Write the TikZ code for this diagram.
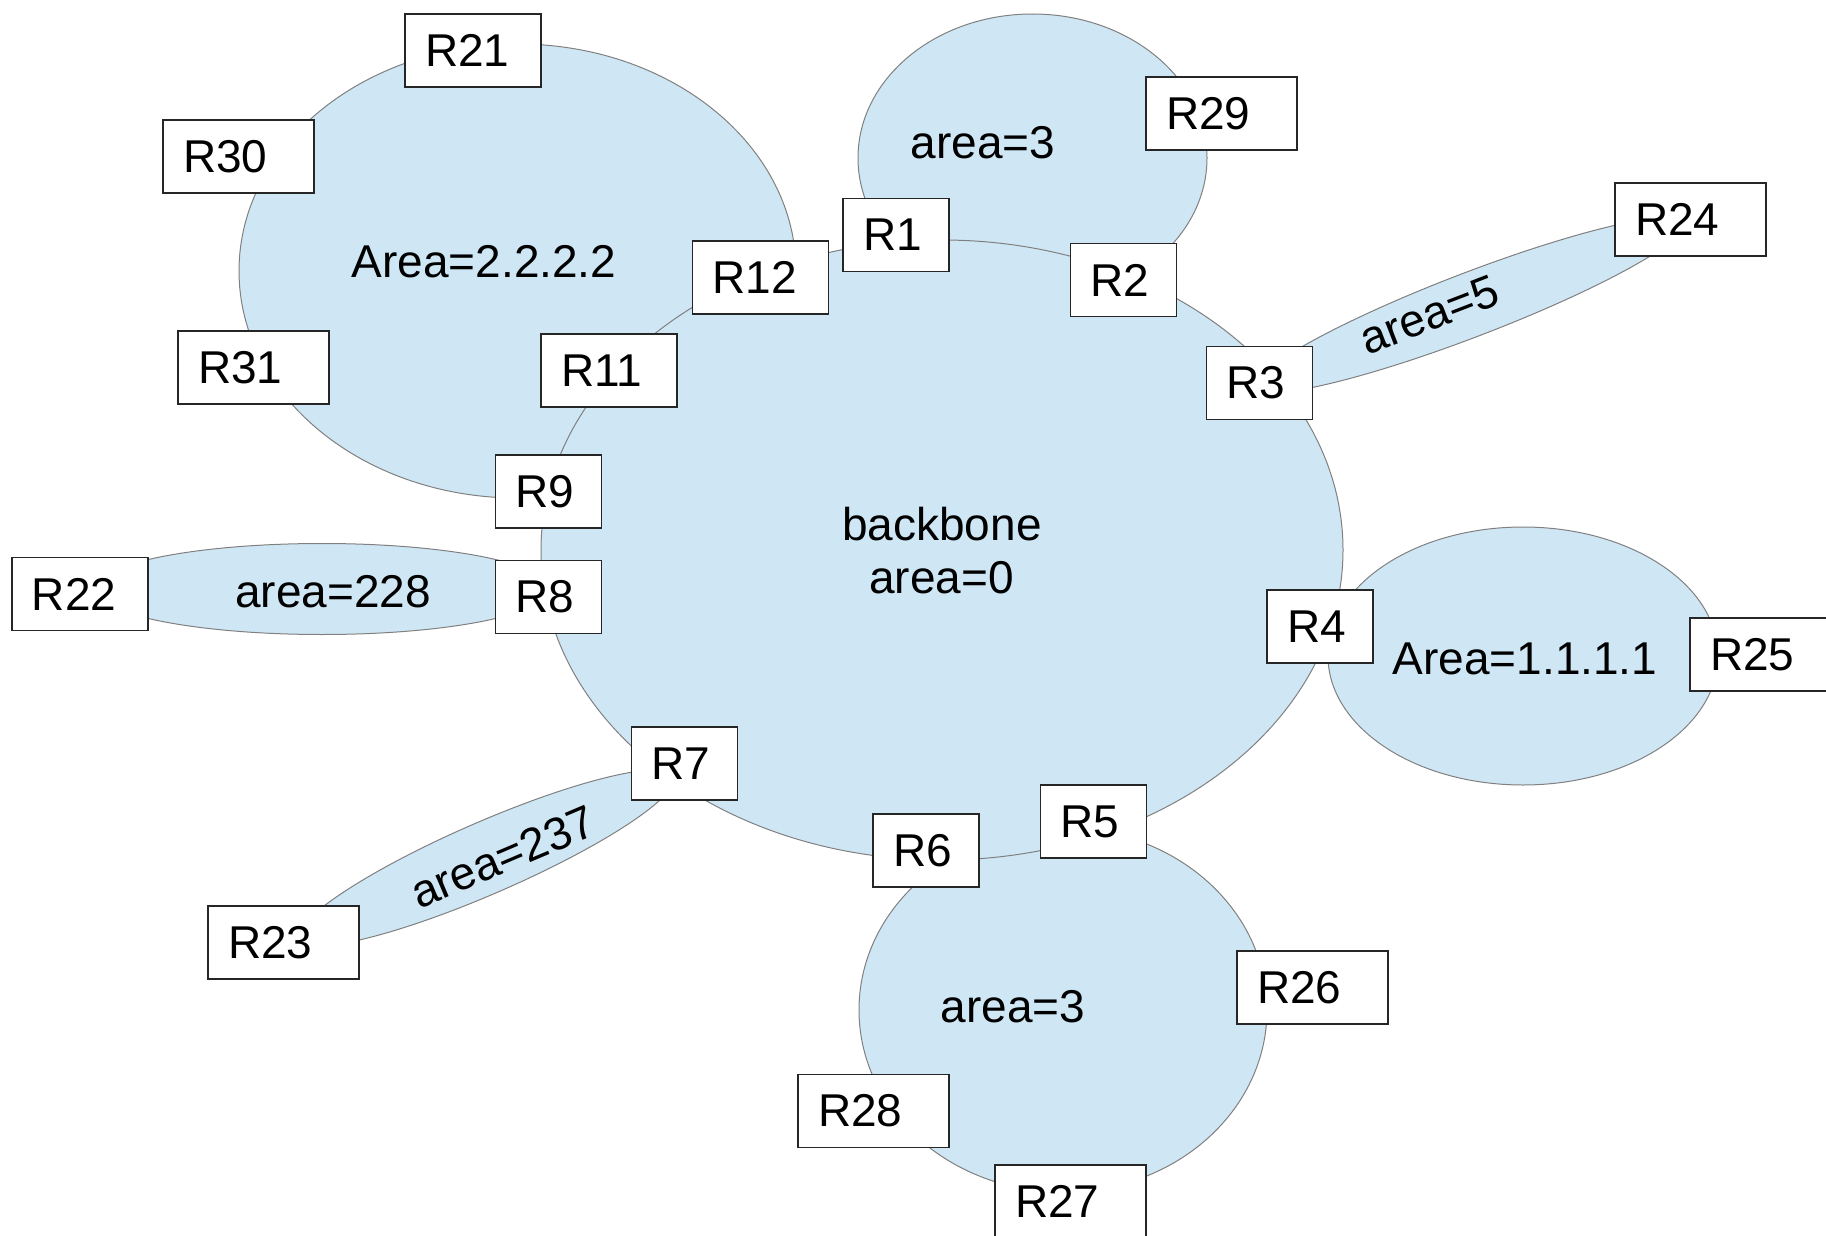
\documentclass[tikz,border=0pt]{standalone}
\usepackage{fontspec}
\setmainfont{Liberation Sans}
\definecolor{areafill}{HTML}{CFE7F5}
\definecolor{arealine}{HTML}{808080}
\begin{document}
\begin{tikzpicture}[x=0.5pt,y=-0.5pt,
  area/.style={fill=areafill,draw=arealine,line width=0.5pt},
  rbox/.style={draw=black!85,fill=white,line width=0.6pt,minimum height=36.5pt,
    inner xsep=10pt,inner ysep=0pt,align=left,font=\fontsize{23}{26}\selectfont},
  rn/.style={rbox,text width=33pt},
  rm/.style={rbox,text width=48pt},
  rw/.style={rbox,text width=55.5pt},
  lbl/.style={inner sep=0pt,anchor=base,font=\fontsize{23}{26}\selectfont}]
\useasboundingbox (0,0) rectangle (1826,1236);
\fill[white] (0,0) rectangle (1826,1236);

% areas
\path[area] (517.5,271) ellipse [x radius=278.5, y radius=227];
\path[area] (1032.5,158) ellipse [x radius=174.5, y radius=144];
\path[area,shift={(1470,305)},rotate=21] (0,0) ellipse [x radius=230, y radius=32];
\path[area] (322,589) ellipse [x radius=228, y radius=45.5];
\path[area,shift={(486,858)},rotate=23.5] (0,0) ellipse [x radius=204.5, y radius=36];
\path[area] (1523,656) ellipse [x radius=195, y radius=129];
\path[area] (1063,1010) ellipse [x radius=204, y radius=182];
% backbone
\path[area] (942,550) ellipse [x radius=401, y radius=310];

% labels
\node[lbl] (l2222) at (484,277) {Area=2.2.2.2};
\node[lbl] (l3t) at (983,159) {area=3};
\node[lbl,anchor=center,rotate=21] (l5) at (1429,315) {area=5};
\node[lbl] (l228) at (333,607) {area=228};
\node[lbl,anchor=center,rotate=23] (l237) at (503,857) {area=237};
\node[lbl] (l1111) at (1525,674) {Area=1.1.1.1};
\node[lbl] (l3b) at (1013,1022) {area=3};
\node[lbl] (lbb1) at (942,540) {backbone};
\node[lbl] (lbb2) at (941.5,593) {area=0};

% routers
\node[rm] (R21) at (473,50.5) {R21};
\node[rw] (R30) at (238.5,156.5) {R30};
\node[rw] (R31) at (253.5,367.5) {R31};
\node[rm] (R12) at (760.5,277.5) {R12};
\node[rm] (R11) at (609,370.5) {R11};
\node[rn] (R9) at (548.5,491.5) {R9};
\node[rn] (R8) at (548.5,597) {R8};
\node[rm] (R22) at (80,594) {R22};
\node[rn] (R1) at (896,235) {R1};
\node[rw] (R29) at (1221.5,113.5) {R29};
\node[rn] (R2) at (1123.5,280) {R2};
\node[rw] (R24) at (1690.5,219.5) {R24};
\node[rn] (R3) at (1259.5,383) {R3};
\node[rn] (R7) at (684.5,763.5) {R7};
\node[rw] (R23) at (283.5,942.5) {R23};
\node[rw] (R28) at (873.5,1111) {R28};
\node[rn] (R4) at (1320,626.5) {R4};
\node[rw] (R25) at (1765.5,654.5) {R25};
\node[rn] (R5) at (1093.5,821.5) {R5};
\node[rn] (R6) at (926,850.5) {R6};
\node[rw] (R26) at (1312.5,987.5) {R26};
\node[rw] (R27) at (1070.5,1201.5) {R27};
\end{tikzpicture}
\end{document}
